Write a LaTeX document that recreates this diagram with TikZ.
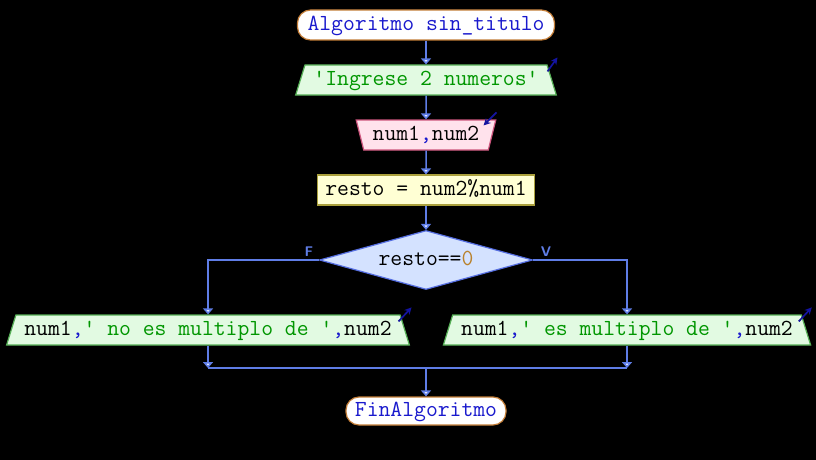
\documentclass[tikz,border=0pt]{standalone}
\usepackage{fontspec}
\usetikzlibrary{shapes.geometric,arrows.meta}

\definecolor{flowline}{RGB}{95,125,230}
\definecolor{tipfill}{RGB}{225,232,255}
\definecolor{kwblue}{RGB}{25,25,205}
\definecolor{strgreen}{RGB}{0,150,0}
\definecolor{numorange}{RGB}{185,130,45}
\definecolor{iomark}{RGB}{20,20,160}
\definecolor{startborder}{RGB}{195,125,55}
\definecolor{outfill}{RGB}{226,250,226}
\definecolor{outborder}{RGB}{85,175,85}
\definecolor{infill}{RGB}{255,226,236}
\definecolor{inborder}{RGB}{205,85,125}
\definecolor{procfill}{RGB}{255,255,212}
\definecolor{procborder}{RGB}{170,160,60}
\definecolor{condfill}{RGB}{212,226,255}
\definecolor{condborder}{RGB}{85,110,225}

\begin{document}
\begin{tikzpicture}[->,>={Triangle[width=10pt,length=6pt,fill=tipfill]},node distance=55pt,font=\ttfamily\fontsize{23}{26}\selectfont,
    flow/.style={draw=flowline,line width=1.5pt},
    io mark/.style={-{Stealth[length=7pt,width=7pt]},draw=iomark,line width=1.7pt},
    base node/.style={line width=1.2pt,text height=15pt,text depth=4pt,minimum height=30pt,inner ysep=2pt},
    start node/.style={base node,rectangle,rounded corners=13pt,draw=startborder,fill=white,minimum width=257pt},
    out node/.style={base node,trapezium,trapezium stretches body,trapezium left angle=68,trapezium right angle=68,draw=outborder,fill=outfill,inner xsep=8.5pt},
    in node/.style={base node,trapezium,trapezium stretches body,trapezium left angle=108,trapezium right angle=108,draw=inborder,fill=infill,inner xsep=9pt},
    proc node/.style={base node,rectangle,draw=procborder,fill=procfill,minimum width=217pt},
    cond node/.style={base node,diamond,aspect=3.6,inner sep=0pt,draw=condborder,fill=condfill,minimum width=213pt,minimum height=59pt},
    blabel/.style={font=\sffamily\bfseries\fontsize{14}{15}\selectfont,text=flowline,inner sep=1pt}]
    \useasboundingbox (0pt,0pt) rectangle (816pt,-460pt);
    \fill[black,-] (0pt,0pt) rectangle (816pt,-460pt);

    \node[start node] (ini) at (426pt,-25pt) {\color{kwblue}Algoritmo sin\_titulo};
    \node[out node] (msg) [below of = ini] {\color{strgreen}'Ingrese 2 numeros'};
    \node[in node] (lee) [below of = msg] {num1\textcolor{kwblue}{,}num2};
    \node[proc node] (calc) [below of = lee] {resto = num2\%num1};
    \node[cond node] (cond) [below of = calc, yshift=-15pt] {resto==\textcolor{numorange}{0}};

    \node[out node] (nomult) [below of = cond, xshift=-218pt, yshift=-15pt] {num1\textcolor{kwblue}{,}\textcolor{strgreen}{' no es multiplo de '}\textcolor{kwblue}{,}num2};
    \node[out node] (mult) [below of = cond, xshift=201pt, yshift=-15pt] {num1\textcolor{kwblue}{,}\textcolor{strgreen}{' es multiplo de '}\textcolor{kwblue}{,}num2};

    \coordinate (join) at (426pt,-368pt);
    \node[start node,minimum width=160pt,minimum height=28pt] (fin) [below of = join, yshift=12pt] {\color{kwblue}FinAlgoritmo};

    \path[flow]
        (ini) edge (msg)
        (msg) edge (lee)
        (lee) edge (calc)
        (calc) edge (cond)
        ;

    \draw[flow] (cond.west) node[blabel, anchor=south east, xshift=-4pt, yshift=2pt] (lf) {F} -| (nomult.north);
    \draw[flow] (cond.east) node[blabel, anchor=south west, xshift=6pt, yshift=2pt] (lv) {V} -| (mult.north);

    \draw[flow] (nomult) -- (nomult |- join);
    \draw[flow] (mult) -- (mult |- join);
    \draw[flow,-] (nomult |- join) -- (mult |- join);
    \draw[flow] (join) -- (fin);

    % flechas de entrada/salida
    \draw[io mark] ([shift={(0pt,-7pt)}]msg.top right corner) -- ++(10pt,14pt);
    \draw[io mark] ([shift={(0pt,7pt)}]lee.top right corner) -- ++(-13pt,-13pt);
    \draw[io mark] ([shift={(-2pt,-7pt)}]nomult.top right corner) -- ++(13pt,14pt);
    \draw[io mark] ([shift={(-3pt,-7pt)}]mult.top right corner) -- ++(13pt,14pt);
\end{tikzpicture}
\end{document}
